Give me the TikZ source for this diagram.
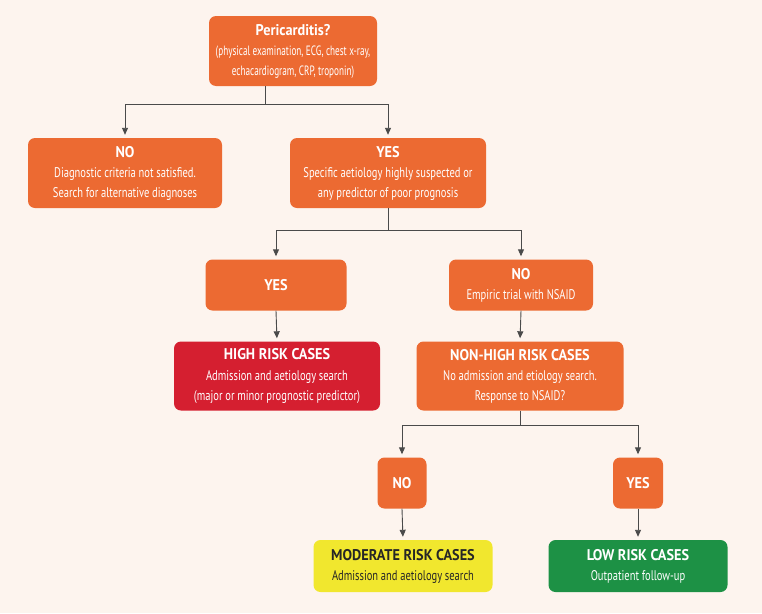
\documentclass[tikz,border=0pt]{standalone}
\usepackage{fontspec}
\setmainfont{PT Sans}[FakeStretch=0.75]
\newfontfamily\ttlfont{PT Sans}[FakeStretch=0.92]
\newfontfamily\topfont{PT Sans}[FakeStretch=0.68]
\usetikzlibrary{arrows.meta}
\definecolor{bg}{HTML}{FDF4EE}
\definecolor{orng}{HTML}{EC6A32}
\definecolor{hired}{HTML}{D51F30}
\definecolor{modyel}{HTML}{F1E72E}
\definecolor{lowgrn}{HTML}{1D9145}
\definecolor{conn}{HTML}{4A4A4A}
\newcommand{\ttl}[1]{{\ttlfont\bfseries\fontsize{15.5}{20}\selectfont #1}}
\tikzset{
  box/.style={rectangle, rounded corners=7pt, fill=orng, text=white, align=center, inner sep=0pt,
    font=\fontsize{14}{20}\selectfont},
  link/.style={draw=conn, line width=0.9pt},
  arr/.style={link, -{Triangle[length=7pt,width=6pt]}, shorten >=3pt}
}
\begin{document}
\begin{tikzpicture}[x=1pt,y=-1pt]
\fill[bg] (0,0) rectangle (762,613);
\useasboundingbox (0,0) rectangle (762,613);

\node[box, minimum width=168, minimum height=70, font=\topfont\fontsize{13.5}{20}\selectfont] (top) at (293,51)
  {\ttl{Pericarditis?}\\(physical examination, ECG, chest x-ray,\\echacardiogram, CRP, troponin)};
\node[box, minimum width=194, minimum height=70] (no1) at (125,173)
  {\ttl{NO}\\Diagnostic criteria not satisfied.\\Search for alternative diagnoses};
\node[box, minimum width=196, minimum height=70] (yes1) at (388,173)
  {\ttl{YES}\\Specific aetiology highly suspected or\\any predictor of poor prognosis};
\node[box, minimum width=141, minimum height=51] (yes2) at (276,285) {\ttl{YES}};
\node[box, minimum width=144, minimum height=51] (no2) at (521,285)
  {\ttl{NO}\\Empiric trial with NSAID};
\node[box, fill=hired, minimum width=206, minimum height=69] (high) at (277,376)
  {\ttl{HIGH RISK CASES}\\Admission and aetiology search\\(major or minor prognostic predictor)};
\node[box, minimum width=207, minimum height=69] (nonhigh) at (520,376)
  {\ttl{NON-HIGH RISK CASES}\\No admission and etiology search.\\Response to NSAID?};
\node[box, minimum width=49, minimum height=51] (no3) at (402,483) {\ttl{NO}};
\node[box, minimum width=50, minimum height=51] (yes3) at (638,483) {\ttl{YES}};
\node[box, fill=modyel, text=black!85, minimum width=179, minimum height=52] (mod) at (403,566)
  {\ttl{MODERATE RISK CASES}\\Admission and aetiology search};
\node[box, fill=lowgrn, minimum width=179, minimum height=52] (low) at (638,566)
  {\ttl{LOW RISK CASES}\\Outpatient follow-up};

\coordinate (j1) at (265,104);
\coordinate (j2) at (388,230);
\coordinate (j3) at (520,425);

\draw[link] (j1 |- top.south) -- (j1);
\draw[arr] (j1) -| (no1.north);
\draw[arr] (j1) -| (yes1.north);

\draw[link] (yes1.south) -- (j2);
\draw[arr] (j2) -| (yes2.north);
\draw[arr] (j2) -| (no2.north);

\draw[arr] (yes2.south) -- (high.north);
\draw[arr] (no2.south) -- (nonhigh.north);

\draw[link] (nonhigh.south) -- (j3);
\draw[arr] (j3) -| (no3.north);
\draw[arr] (j3) -| (yes3.north);

\draw[arr] (no3.south) -- (mod.north);
\draw[arr] (yes3.south) -- (low.north);
\end{tikzpicture}
\end{document}
